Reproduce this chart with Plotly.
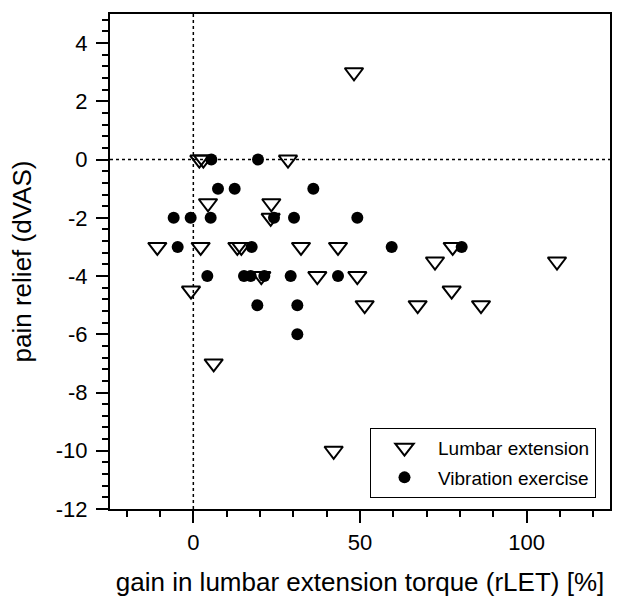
import plotly.graph_objects as go

# Lumbar extension group (open down-triangles)
lumbar_x = [1.8, 3.0, 28.4, 48.2, 4.4, 23.4, 23.2, -10.8, 2.2, 13.2, 14.4, 32.3, 43.4,
            77.8, 72.5, 109.1, 20.4, 37.2, 49.2, 77.5, -0.7, 51.4, 67.3, 86.3, 6.1, 42.1]
lumbar_y = [0, 0, 0, 3, -1.5, -1.5, -2, -3, -3, -3, -3, -3, -3,
            -3, -3.5, -3.5, -4, -4, -4, -4.5, -4.5, -5, -5, -5, -7, -10]

# Vibration exercise group (filled circles)
vib_x = [5.4, 19.4, 7.4, 12.4, 36.0, -5.9, -0.8, 5.2, 24.2, 30.2, 49.2, -4.7, 17.5,
         59.5, 80.5, 4.2, 15.2, 17.2, 21.3, 29.2, 43.4, 19.2, 31.2, 31.2]
vib_y = [0, 0, -1, -1, -1, -2, -2, -2, -2, -2, -2, -3, -3,
         -3, -3, -4, -4, -4, -4, -4, -4, -5, -5, -6]

x_range = [-25, 125]
y_range = [-12, 5]
x_ticks = [0, 50, 100]
x_ticktext = ["0", "50", "100"]
y_ticks = [-12, -10, -8, -6, -4, -2, 0, 2, 4]
y_ticktext = ["-12", "-10", "-8", "-6", "-4", "-2", "0", "2", "4"]

FONT = "Liberation Sans, Arial, Helvetica, sans-serif"

fig = go.Figure()
fig.add_trace(go.Scatter(
    x=lumbar_x, y=lumbar_y, mode="markers", name="Lumbar extension",
    legendgroup="a",
    marker=dict(symbol="triangle-down-open", size=16, color="black",
                line=dict(width=2, color="black"))))
fig.add_trace(go.Scatter(
    x=vib_x, y=vib_y, mode="markers", name="Vibration exercise",
    legendgroup="b",
    marker=dict(symbol="circle", size=12, color="black")))

# reference lines at zero
fig.add_shape(type="line", xref="x", yref="y", x0=0, x1=0, y0=y_range[0], y1=y_range[1],
              line=dict(color="black", width=1.5, dash="dot"), layer="below")
fig.add_shape(type="line", xref="x", yref="y", x0=x_range[0], x1=x_range[1], y0=0, y1=0,
              line=dict(color="black", width=1.5, dash="dot"), layer="below")

fig.update_layout(
    width=617, height=599,
    margin=dict(l=110, r=7, t=14, b=90, autoexpand=False),
    paper_bgcolor="white", plot_bgcolor="white",
    font=dict(family=FONT, color="black"),
    showlegend=True,
    legend=dict(x=0.52, y=0.164, xanchor="left", yanchor="top",
                bgcolor="white", bordercolor="black", borderwidth=1,
                font=dict(size=19, family=FONT), traceorder="grouped",
                tracegroupgap=2, itemwidth=57),
    xaxis=dict(range=x_range, tickvals=x_ticks, ticktext=x_ticktext, ticks="outside",
               ticklen=12, tickwidth=1.5, automargin=False,
               tickcolor="black", showline=True, linecolor="black", linewidth=2, mirror=True,
               showgrid=False, zeroline=False, tickfont=dict(size=22, family=FONT),
               minor=dict(dtick=10, tick0=0, ticks="outside", ticklen=6, tickwidth=1.5,
                          tickcolor="black", showgrid=False),
               ticklabelstandoff=1,
               title=dict(text="gain in lumbar extension torque (rLET) [%]",
                          font=dict(size=26, family=FONT), standoff=18)),
    yaxis=dict(range=y_range, tickvals=y_ticks, ticktext=y_ticktext, ticks="outside",
               ticklen=12, tickwidth=1.5, automargin=False,
               tickcolor="black", showline=True, linecolor="black", linewidth=2, mirror=True,
               showgrid=False, zeroline=False, tickfont=dict(size=22, family=FONT),
               minor=dict(dtick=0.4, tick0=0, ticks="outside", ticklen=6, tickwidth=1.5,
                          tickcolor="black", showgrid=False),
               ticklabelstandoff=4,
               title=dict(text="pain relief (dVAS)", font=dict(size=26, family=FONT),
                          standoff=17)),
)

fig.write_html("out.html", config={"displayModeBar": False},
               post_script="document.body.style.margin='0';document.body.style.overflow='hidden';")
